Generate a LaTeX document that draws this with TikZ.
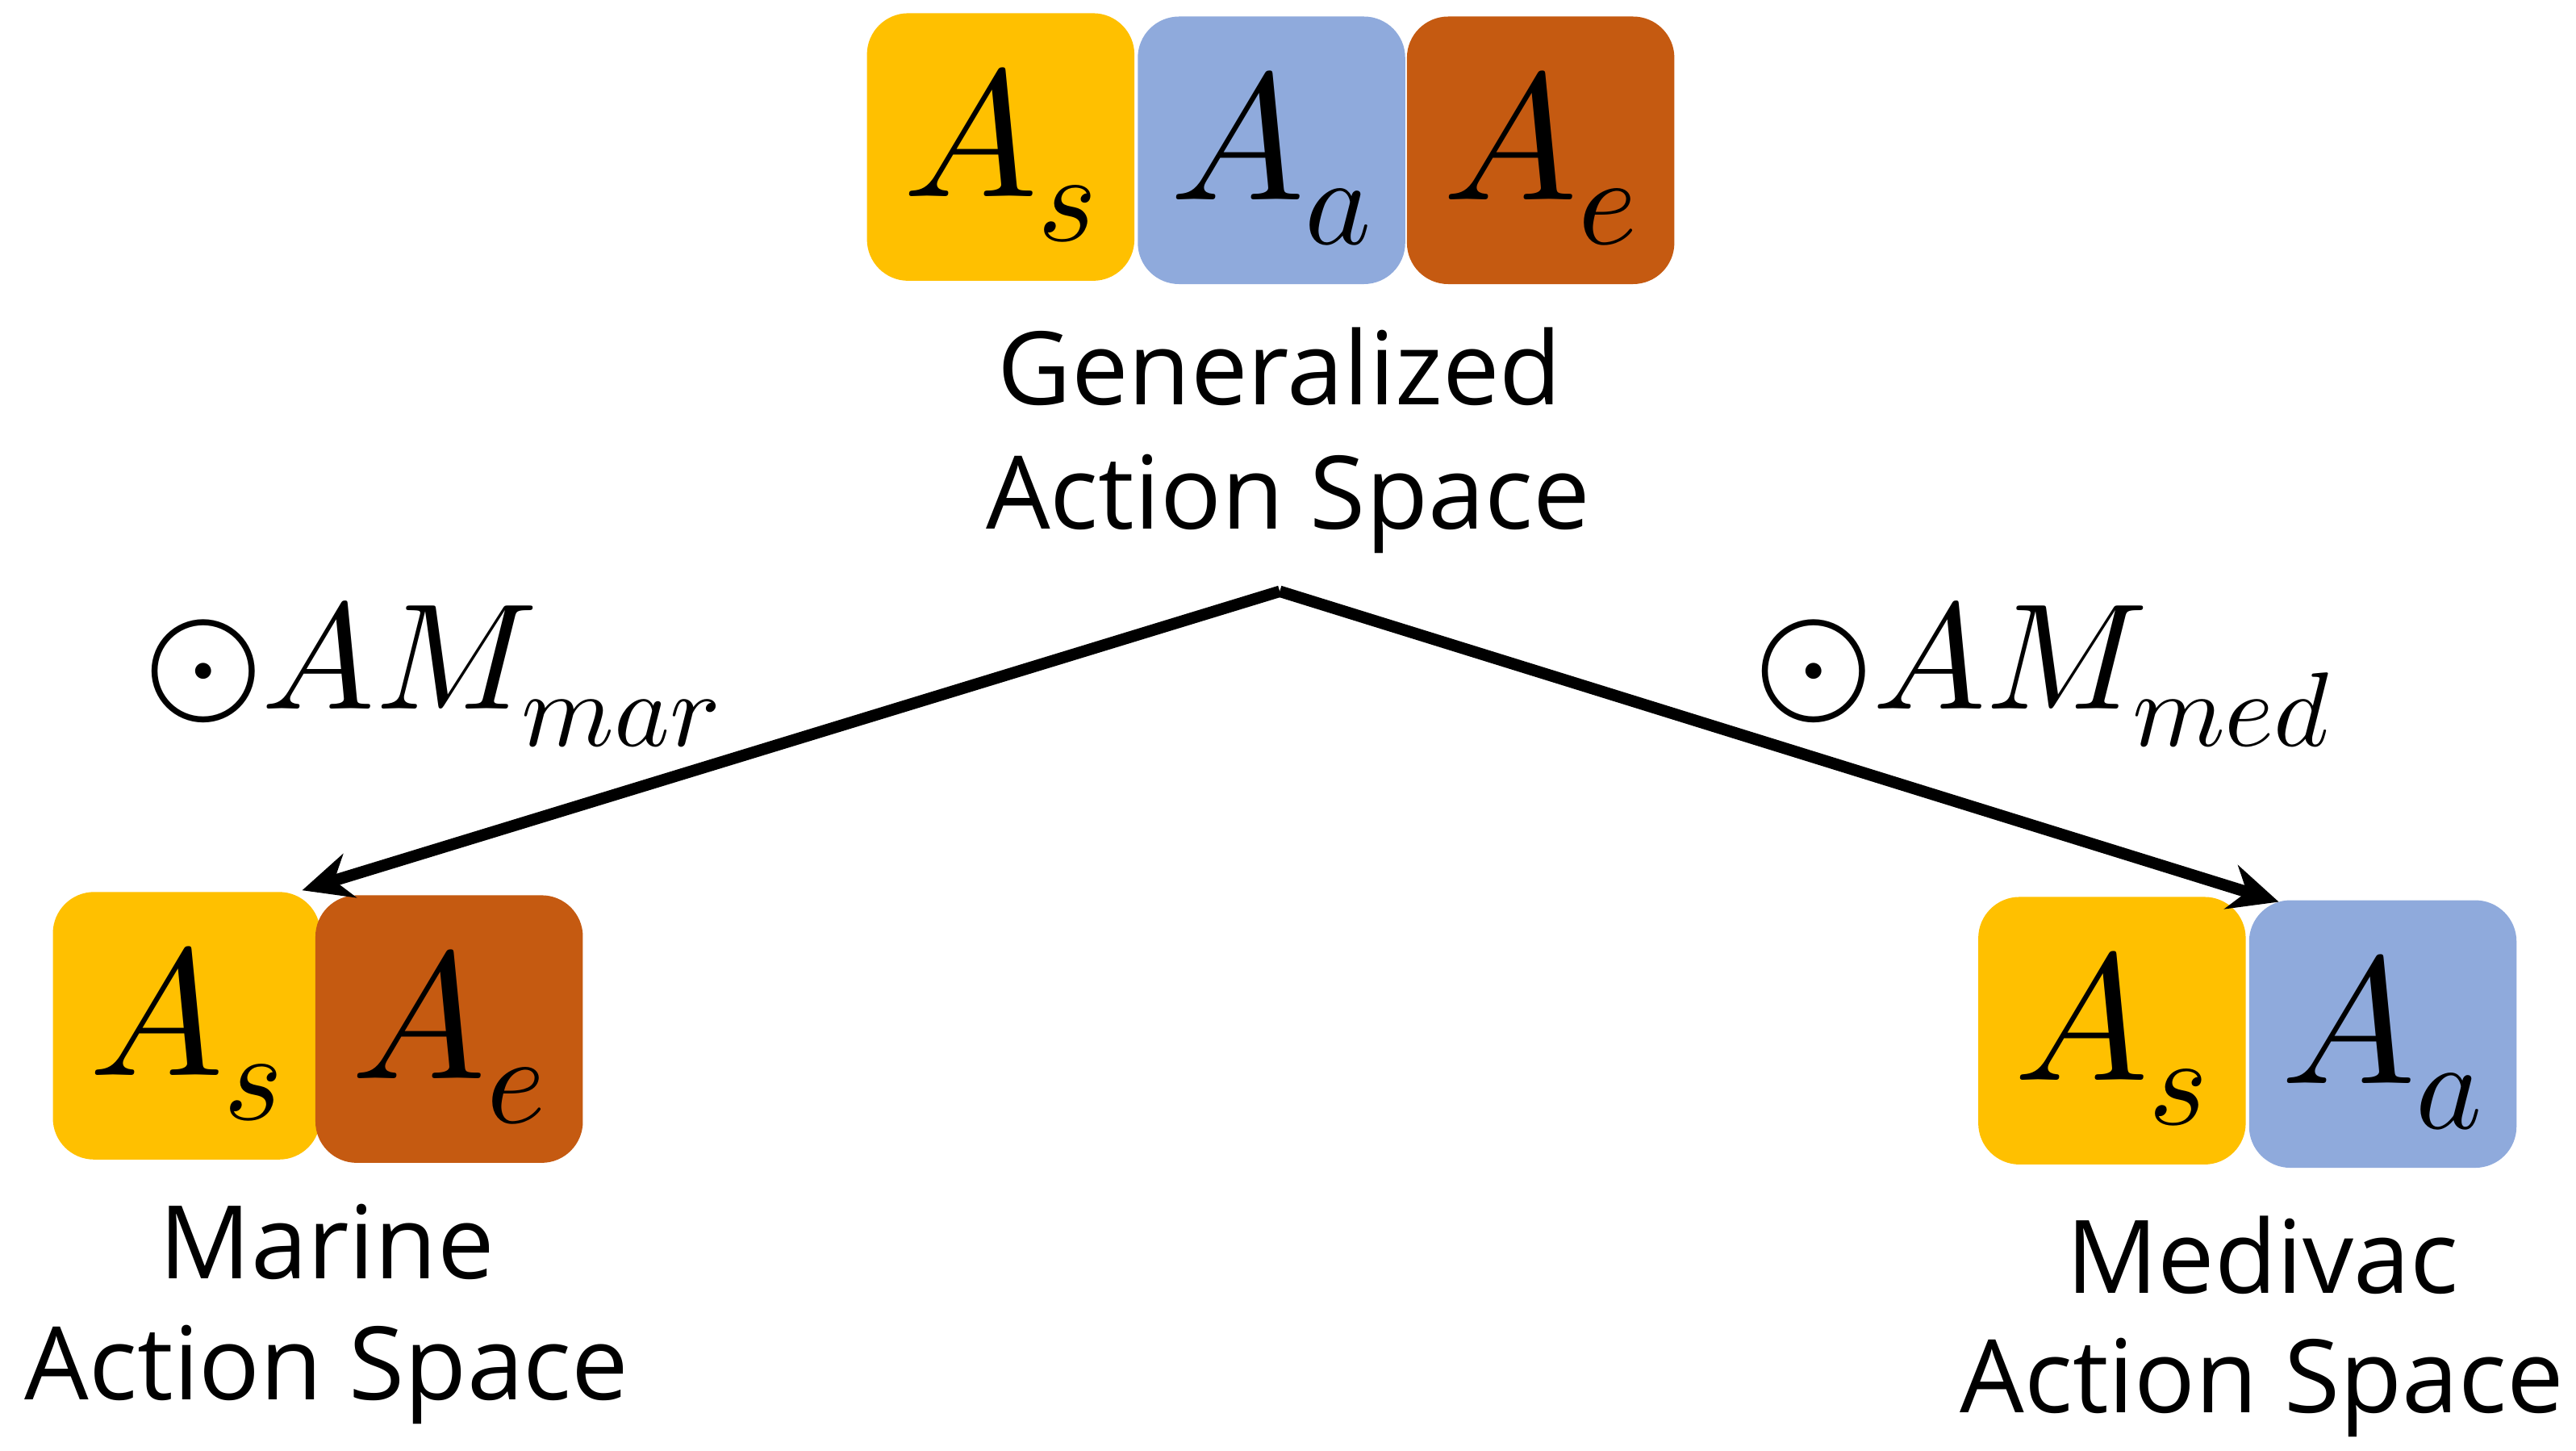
\documentclass[tikz,border=0pt]{standalone}
\usepackage{fontspec}
\usepackage{unicode-math}
\setmainfont{Open Sans}
\setmathfont{Latin Modern Math}
\usetikzlibrary{arrows.meta}
\begin{document}
\begin{tikzpicture}[x=0.02cm,y=-0.02cm,
  box/.style={minimum width=3.24cm,minimum height=3.24cm,rounded corners=0.5cm,inner sep=0},
  ys/.style={box,fill={rgb,255:red,255;green,192;blue,0}},
  bs/.style={box,fill={rgb,255:red,143;green,170;blue,220}},
  os/.style={box,fill={rgb,255:red,197;green,90;blue,17}},
  m/.style={font=\fontsize{62}{64}\selectfont},
  am/.style={font=\fontsize{52}{54}\selectfont},
  lbl/.style={font=\fontsize{35}{38}\selectfont},
  arr/.style={line width=4pt,-{Stealth[length=0.6cm,width=0.55cm]}}]
\useasboundingbox (0,0) rectangle (1560,878);
\node[ys] (t1) at (606,89) {}; \node[m] at (606,94) {$A_s$};
\node[bs] (t2) at (770,91) {}; \node[m] at (770,96) {$A_a$};
\node[os] (t3) at (933,91) {}; \node[m] at (933,96) {$A_e$};
\node[lbl] (g1) at (775,222) {Generalized};
\node[lbl] (g2) at (780,305) {Action Space};
\node[ys] (l1) at (113,621) {}; \node[m] at (113,626) {$A_s$};
\node[os] (l2) at (272,623) {}; \node[m] at (272,628) {$A_e$};
\node[lbl] (m1) at (198,752) {Marine};
\node[lbl] (m2) at (198,832) {Action Space};
\node[ys] (r1) at (1279,624) {}; \node[m] at (1279,629) {$A_s$};
\node[bs] (r2) at (1443,626) {}; \node[m] at (1443,631) {$A_a$};
\node[lbl] (d1) at (1370,760) {Medivac};
\node[lbl] (d2) at (1370,840) {Action Space};
\coordinate (apex) at (775,358);
\coordinate (le) at (183,539);
\coordinate (re) at (1380,546);
\draw[arr] (apex) -- (le);
\draw[arr] (apex) -- (re);
\node[am] (am1) at (262,408) {$\odot AM_{mar}$};
\node[am] (am2) at (1238,408) {$\odot AM_{med}$};
\end{tikzpicture}
\end{document}
